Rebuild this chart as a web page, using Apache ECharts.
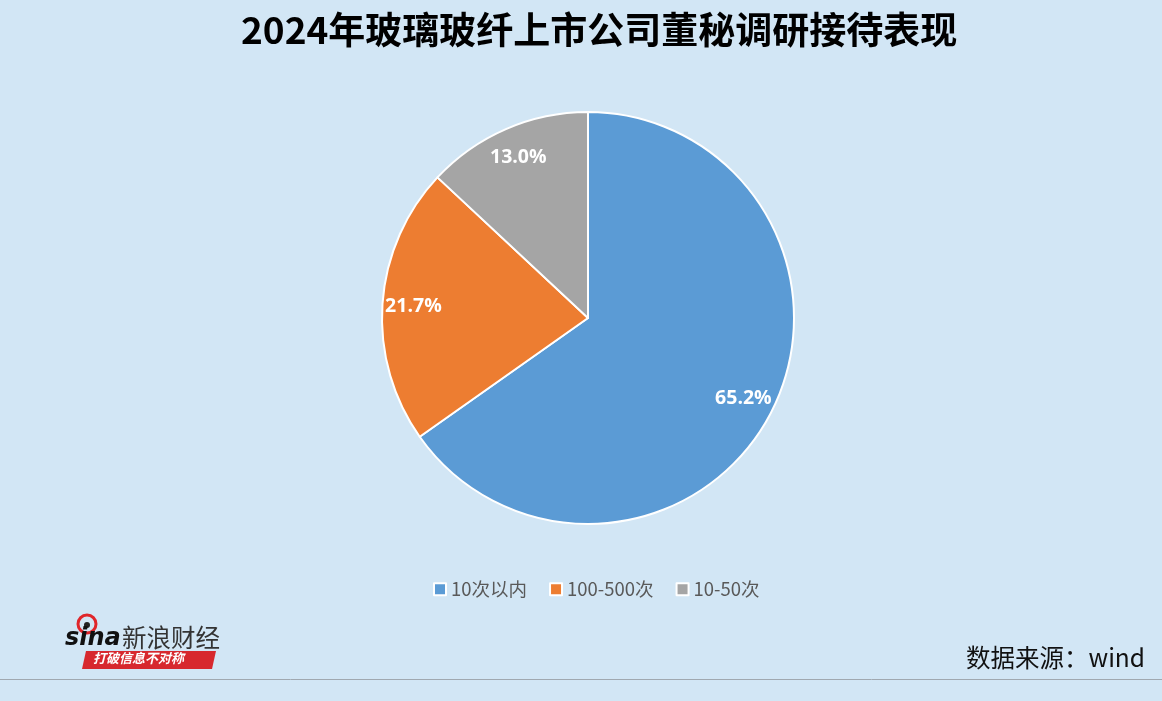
<!DOCTYPE html>
<html><head><meta charset="utf-8">
<script src="https://cdn.jsdelivr.net/npm/echarts@6/dist/echarts.min.js"></script>
<style>html,body{margin:0;padding:0;background:#D2E6F5;}#c{width:1162px;height:701px;}</style>
</head><body><div id="c"></div>
<script>
const categories = ['10次以内', '100-500次', '10-50次'];
const counts = [15, 5, 3];
const colors = ['#5B9BD5', '#ED7D31', '#A5A5A5'];
const titleText = '2024年玻璃玻纤上市公司董秘调研接待表现';
const sourceText = '数据来源：wind';

const data = categories.map((n, i) => ({ name: n, value: counts[i], itemStyle: { color: colors[i] } }));
const chart = echarts.init(document.getElementById('c'));
const center = [588, 318];
chart.setOption({
  backgroundColor: '#D2E6F5',
  animation: false,
  title: {
    text: titleText, left: 236, top: 6,
    textStyle: { fontFamily: 'Noto Sans CJK SC', fontWeight: 'bold', fontSize: 37, color: '#000' }
  },
  legend: {
    top: 575, left: 428, itemWidth: 12, itemHeight: 12, itemGap: 22,
    icon: 'rect',
    textStyle: { fontFamily: 'Noto Sans CJK SC', fontSize: 18.5, color: '#595959' },
    data: categories
  },
  series: [
    {
      type: 'pie', center: center, radius: [0, 206], startAngle: 90, clockwise: true,
      silent: true,
      itemStyle: { borderColor: '#fff', borderWidth: 2 },
      label: { show: false }, labelLine: { show: false },
      data: data
    },
    {
      type: 'pie', center: center, radius: [138, 206], startAngle: 90, clockwise: true,
      silent: true, z: 5,
      itemStyle: { color: 'rgba(0,0,0,0)', borderWidth: 0 },
      label: {
        show: true, position: 'inside', color: '#fff', fontWeight: 'bold', fontSize: 19.5,
        fontFamily: 'Open Sans',
        formatter: p => p.percent.toFixed(1) + '%'
      },
      labelLine: { show: false },
      data: categories.map((n, i) => ({ name: n, value: counts[i] })),
      legendHoverLink: false
    }
  ],
  graphic: [
    { type: 'line', shape: { x1: 0, y1: 679.5, x2: 1162, y2: 679.5 }, style: { stroke: '#A0A8B0', lineWidth: 1 } },
    { type: 'text', right: 17, top: 645, style: { text: sourceText, font: '24.5px "Noto Sans CJK SC"', fill: '#111' } },
    // sina logo approximation
    { type: 'circle', shape: { cx: 87, cy: 624, r: 9 }, style: { fill: 'none', stroke: '#E0262B', lineWidth: 3 } },
    { type: 'circle', shape: { cx: 87, cy: 625, r: 3 }, style: { fill: '#222' } },
    { type: 'text', x: 65, y: 627, style: { text: 'sina', font: 'italic bold 24px "DejaVu Sans"', fill: '#111' } },
    { type: 'text', x: 122, y: 625, style: { text: '新浪财经', font: '24.5px "Noto Sans CJK SC"', fill: '#333' } },
    { type: 'polygon', shape: { points: [[86, 651], [216, 651], [212, 669], [82, 669]] }, style: { fill: '#D7282E' } },
    { type: 'text', x: 93, y: 652, style: { text: '打破信息不对称', font: 'italic bold 13px "Noto Sans CJK SC"', fill: '#fff' } }
  ]
});
</script></body></html>
